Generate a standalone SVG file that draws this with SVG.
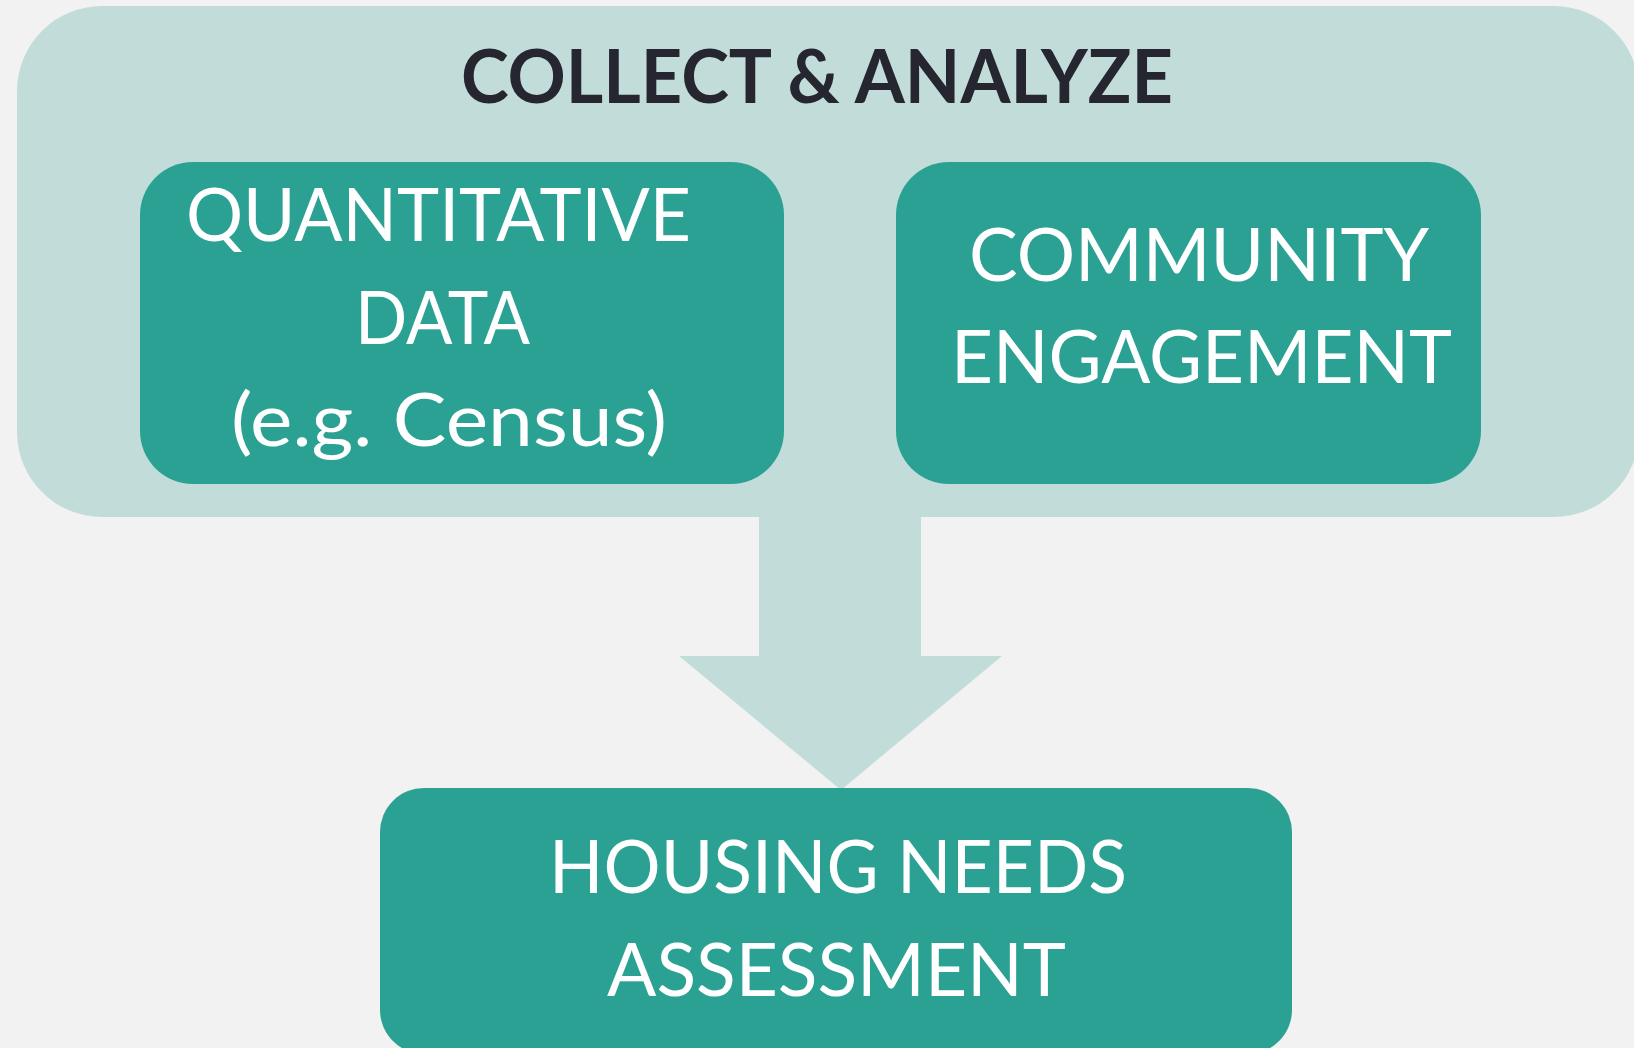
<svg xmlns="http://www.w3.org/2000/svg" width="1634" height="1048" viewBox="0 0 1634 1048">
  <style>
    .panel { fill: #c2ddd9; }
    .node { fill: #2ba193; }
    .title { font-family: Lato, "Open Sans", "Liberation Sans", sans-serif; font-weight: 700; font-size: 74px; fill: #262631; }
    .label { font-family: Lato, "Open Sans", "Liberation Sans", sans-serif; font-weight: 400; font-size: 74px; fill: #ffffff; }
  </style>
  <rect x="0" y="0" width="1634" height="1048" fill="#f2f2f2"/>

  <!-- container for the collection stage -->
  <g id="collect-analyze">
    <rect class="panel" x="17" y="6" width="1622" height="511" rx="85" ry="85"/>
    <text class="title" x="461" y="103" textLength="712" lengthAdjust="spacingAndGlyphs">COLLECT &amp; ANALYZE</text>
  </g>

  <!-- block arrow from the collection stage to the assessment -->
  <g id="connectors">
    <polygon class="panel" points="759,510 921,510 921,656 1002,656 841,790 679,656 759,656"/>
  </g>

  <g id="quantitative-data">
    <rect class="node" x="140" y="162" width="644" height="322" rx="53" ry="53"/>
    <text class="label" x="186" y="241" textLength="505" lengthAdjust="spacingAndGlyphs">QUANTITATIVE</text>
    <text class="label" x="355" y="344" textLength="175" lengthAdjust="spacingAndGlyphs">DATA</text>
    <text class="label" x="231" y="446" textLength="436" lengthAdjust="spacingAndGlyphs">(e.g. Census)</text>
  </g>

  <g id="community-engagement">
    <rect class="node" x="896" y="162" width="585" height="322" rx="53" ry="53"/>
    <text class="label" x="969" y="281" textLength="460" lengthAdjust="spacingAndGlyphs">COMMUNITY</text>
    <text class="label" x="951" y="383" textLength="501" lengthAdjust="spacingAndGlyphs">ENGAGEMENT</text>
  </g>

  <g id="housing-needs-assessment">
    <rect class="node" x="380" y="788" width="912" height="266" rx="44" ry="44"/>
    <text class="label" x="549" y="893" textLength="578" lengthAdjust="spacingAndGlyphs">HOUSING NEEDS</text>
    <text class="label" x="607" y="996" textLength="459" lengthAdjust="spacingAndGlyphs">ASSESSMENT</text>
  </g>
</svg>
